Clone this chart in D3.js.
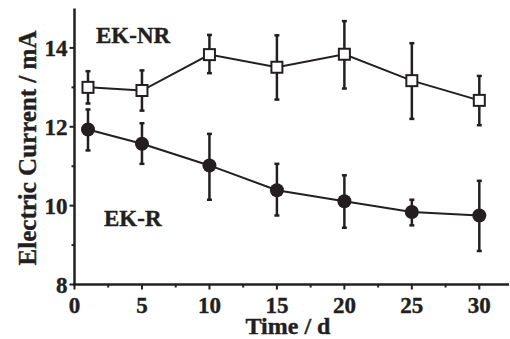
<!DOCTYPE html>
<html>
<head>
<meta charset="utf-8">
<script src="https://cdn.jsdelivr.net/npm/d3@7"></script>
<style>
  body { margin: 0; background: #fff; }
  svg { display: block; }
  text { font-family: "Liberation Serif", "Times New Roman", serif; font-weight: bold; fill: #231f20; stroke: #231f20; stroke-width: 0.4; }
</style>
</head>
<body>
<svg width="510" height="339"></svg>
<script>
// days sampled
const days = [1, 5, 10, 15, 20, 25, 30];

// EK-NR (open squares)
const nrMean = [13.0, 12.92, 13.83, 13.51, 13.84, 13.17, 12.67];
const nrHi = [13.41, 13.43, 14.33, 14.32, 14.68, 14.12, 13.29];
const nrLo = [12.59, 12.41, 13.36, 12.69, 12.97, 12.2, 12.04];

// EK-R (filled circles)
const rMean = [11.93, 11.57, 11.02, 10.39, 10.11, 9.84, 9.75];
const rHi = [12.44, 12.09, 11.82, 11.06, 10.77, 10.15, 10.63];
const rLo = [11.4, 11.06, 10.15, 9.75, 9.44, 9.5, 8.85];

const xTicks = [0, 5, 10, 15, 20, 25, 30];
const yTicks = [8, 10, 12, 14];

const ink = '#231f20';
const svg = d3.select('svg');

const x = d3.scaleLinear().domain([0, 32.2]).range([74.5, 509]);
const y = d3.scaleLinear().domain([8, 15]).range([284.5, 8.5]);

// axes
const xAxis = svg.append('g').attr('transform', `translate(0,${y(8)})`);
xAxis.append('line').attr('x1', x(0) - 1).attr('x2', x(32.2))
    .attr('stroke', ink).attr('stroke-width', 2.5);
xAxis.selectAll('line.maj').data(xTicks).enter().append('line')
    .attr('x1', d => x(d)).attr('x2', d => x(d)).attr('y1', 0).attr('y2', 5)
    .attr('stroke', ink).attr('stroke-width', 2);
xAxis.selectAll('line.min').data(d3.range(2.5, 32, 5)).enter().append('line')
    .attr('x1', d => x(d)).attr('x2', d => x(d)).attr('y1', 0).attr('y2', 3)
    .attr('stroke', ink).attr('stroke-width', 2);
xAxis.selectAll('text').data(xTicks).enter().append('text')
    .attr('x', d => x(d)).attr('y', 28)
    .attr('text-anchor', 'middle').attr('font-size', 23)
    .text(d => d);

const yAxis = svg.append('g').attr('transform', `translate(${x(0)},0)`);
yAxis.append('line').attr('y1', y(8) + 1).attr('y2', y(15))
    .attr('stroke', ink).attr('stroke-width', 2.5);
yAxis.selectAll('line.maj').data(yTicks).enter().append('line')
    .attr('y1', d => y(d)).attr('y2', d => y(d)).attr('x1', 0).attr('x2', -5)
    .attr('stroke', ink).attr('stroke-width', 2);
yAxis.selectAll('line.min').data([9, 11, 13]).enter().append('line')
    .attr('y1', d => y(d)).attr('y2', d => y(d)).attr('x1', 0).attr('x2', -3)
    .attr('stroke', ink).attr('stroke-width', 2);
yAxis.selectAll('text').data(yTicks).enter().append('text')
    .attr('x', -7).attr('y', d => y(d) + 8)
    .attr('text-anchor', 'end').attr('font-size', 23)
    .text(d => d);

svg.append('text').attr('x', 288).attr('y', 334)
    .attr('text-anchor', 'middle').attr('font-size', 24).text('Time / d');
svg.append('text').attr('transform', 'translate(36,148) rotate(-90)')
    .attr('text-anchor', 'middle').attr('font-size', 25).text('Electric Current / mA');

// series
function drawSeries(mean, hi, lo, marker) {
    const g = svg.append('g');
    g.append('path')
        .datum(days.map((d, i) => [d, mean[i]]))
        .attr('fill', 'none').attr('stroke', ink).attr('stroke-width', 2)
        .attr('d', d3.line().x(d => x(d[0])).y(d => y(d[1])));
    days.forEach((d, i) => {
        g.append('line').attr('x1', x(d)).attr('x2', x(d))
            .attr('y1', y(hi[i])).attr('y2', y(lo[i]))
            .attr('stroke', ink).attr('stroke-width', 2.5);
        [hi[i], lo[i]].forEach(v => {
            g.append('line').attr('x1', x(d) - 2.5).attr('x2', x(d) + 2.5)
                .attr('y1', y(v)).attr('y2', y(v))
                .attr('stroke', ink).attr('stroke-width', 2.5);
        });
        if (marker === 'square') {
            g.append('rect').attr('x', x(d) - 5.5).attr('y', y(mean[i]) - 5.5)
                .attr('width', 11).attr('height', 11)
                .attr('fill', '#fff').attr('stroke', ink).attr('stroke-width', 2);
        } else {
            g.append('circle').attr('cx', x(d)).attr('cy', y(mean[i])).attr('r', 7)
                .attr('fill', ink);
        }
    });
}
drawSeries(rMean, rHi, rLo, 'circle');
drawSeries(nrMean, nrHi, nrLo, 'square');

svg.append('text').attr('x', 96).attr('y', 43).attr('font-size', 23).text('EK-NR');
svg.append('text').attr('x', 104).attr('y', 226).attr('font-size', 23).text('EK-R');
</script>
</body>
</html>
